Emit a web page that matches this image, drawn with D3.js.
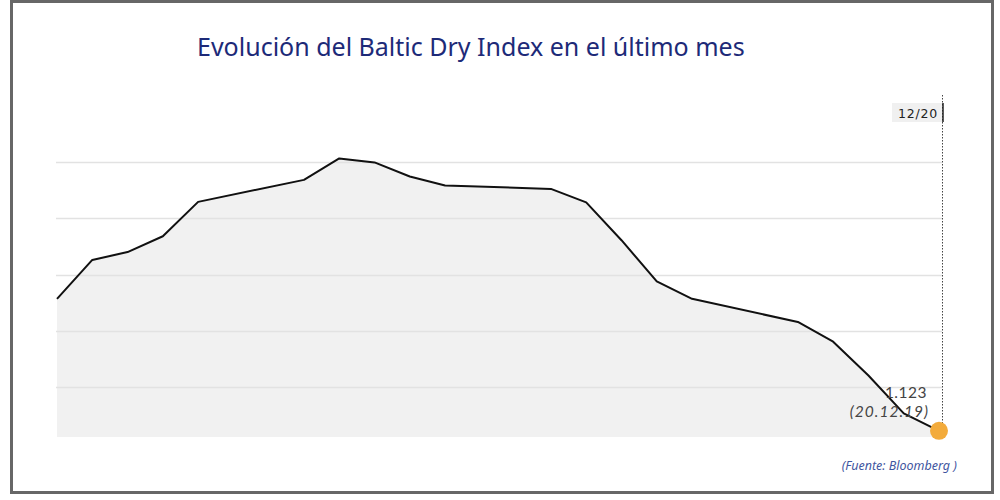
<!DOCTYPE html>
<html>
<head>
<meta charset="utf-8">
<script src="https://cdn.jsdelivr.net/npm/d3@7"></script>
<style>
  html, body { margin: 0; padding: 0; background: #fff; }
  svg { display: block; }
</style>
</head>
<body>
<svg id="chart" width="1000" height="500"></svg>
<script>
// ---- data ----
const dates = ["2019-11-25","2019-11-26","2019-11-27","2019-11-28","2019-11-29",
               "2019-12-02","2019-12-03","2019-12-04","2019-12-05","2019-12-06",
               "2019-12-09","2019-12-10","2019-12-11","2019-12-12","2019-12-13",
               "2019-12-16","2019-12-17","2019-12-18","2019-12-19","2019-12-20"];
const values = [1357, 1426, 1440, 1468, 1529,
                1568, 1606, 1599, 1574, 1558,
                1552, 1528, 1461, 1388, 1357,
                1316, 1281, 1221, 1154, 1123];
const gridValues = [1200, 1300, 1400, 1500, 1600];
const titleText = "Evolución del Baltic Dry Index en el último mes";
const cursorLabel = "12/20";
const lastValueLabel = "1.123";
const lastDateLabel = "(20.12.19)";
const sourceText = "(Fuente: Bloomberg )";

const parse = d3.timeParse("%Y-%m-%d");
const data = dates.map((d, i) => ({ date: parse(d), value: values[i] }));

const svg = d3.select("#chart");

// frame
svg.append("rect")
  .attr("x", 11.5).attr("y", 1.5).attr("width", 981).attr("height", 491)
  .attr("fill", "#fff").attr("stroke", "#676767").attr("stroke-width", 3);

const plot = { left: 56, right: 942, top: 95, bottom: 437 };

const x = d3.scaleTime()
  .domain(d3.extent(data, d => d.date))
  .range([57, 939]);
const y = d3.scaleLinear()
  .domain([1112, 1718.5])
  .range([plot.bottom, plot.top]);

// area
const area = d3.area()
  .x(d => x(d.date)).y0(plot.bottom).y1(d => y(d.value));
svg.append("path").datum(data)
  .attr("d", area).attr("fill", "#f1f1f1");

// gridlines
svg.append("g").selectAll("line").data(gridValues).join("line")
  .attr("x1", plot.left).attr("x2", plot.right)
  .attr("y1", d => Math.round(y(d)) + 0.5).attr("y2", d => Math.round(y(d)) + 0.5)
  .attr("stroke", "#e2e2e2").attr("stroke-width", 1.5);

// line
const line = d3.line().x(d => x(d.date)).y(d => y(d.value));
svg.append("path").datum(data)
  .attr("d", line).attr("fill", "none")
  .attr("stroke", "#111").attr("stroke-width", 2).attr("stroke-linejoin", "round");

// dotted cursor line
svg.append("line")
  .attr("x1", 942.5).attr("x2", 942.5).attr("y1", plot.top).attr("y2", plot.bottom)
  .attr("stroke", "#444").attr("stroke-width", 1).attr("stroke-dasharray", "1.5,1.5");

// cursor label
svg.append("rect")
  .attr("x", 892).attr("y", 103).attr("width", 50).attr("height", 19)
  .attr("fill", "#f0f0f0");
svg.append("line")
  .attr("x1", 943).attr("x2", 943).attr("y1", 103).attr("y2", 122)
  .attr("stroke", "#222").attr("stroke-width", 1.5);
svg.append("text")
  .attr("x", 938).attr("y", 117.5).attr("text-anchor", "end")
  .attr("font-family", "DejaVu Sans, sans-serif").attr("font-size", 12.5)
  .attr("letter-spacing", 0.8)
  .attr("fill", "#222").text(cursorLabel);

// last point
const last = data[data.length - 1];
svg.append("circle")
  .attr("cx", x(last.date)).attr("cy", y(last.value)).attr("r", 9)
  .attr("fill", "#f3ab3b");

svg.append("text")
  .attr("x", 927).attr("y", 398).attr("text-anchor", "end")
  .attr("font-family", "Lato, sans-serif").attr("font-size", 15.5)
  .attr("letter-spacing", 0.5)
  .attr("fill", "#444").text(lastValueLabel);
svg.append("text")
  .attr("x", 929).attr("y", 417).attr("text-anchor", "end")
  .attr("font-family", "Lato, sans-serif").attr("font-size", 15.5)
  .attr("font-style", "italic").attr("letter-spacing", 1)
  .attr("fill", "#444").text(lastDateLabel);

// title
svg.append("text")
  .attr("x", 197).attr("y", 56)
  .attr("font-family", "Noto Sans, sans-serif").attr("font-size", 25)
  .attr("fill", "#1d2a78").text(titleText);

// source
svg.append("text")
  .attr("x", 957).attr("y", 470).attr("text-anchor", "end")
  .attr("font-family", "Noto Sans, sans-serif").attr("font-size", 12.5)
  .attr("font-style", "italic")
  .attr("fill", "#3f56a0").text(sourceText);
</script>
</body>
</html>
